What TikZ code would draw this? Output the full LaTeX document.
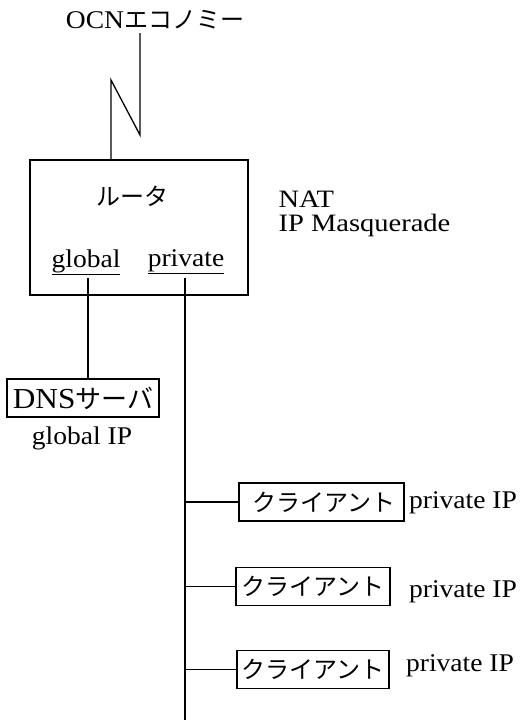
\documentclass[tikz,border=0pt]{standalone}
\usepackage{fontspec}
\setmainfont{Liberation Serif}[FakeStretch=1.08]
\newfontfamily\natfont{Liberation Serif}[FakeStretch=1.14]
\newfontfamily\jp{Noto Sans CJK JP}
\begin{document}
\begin{tikzpicture}[x=1pt,y=-1pt, line width=1.3pt,
  every node/.style={font=\fontsize{25.5}{30}\selectfont, inner sep=0pt},
  jpf/.style={font=\jp\fontsize{24}{30}\selectfont},
  box/.style={draw, minimum height=38pt, inner sep=4pt}]
\useasboundingbox (0,0) rectangle (528,725);
% top link
\node (ocn) at (155,20) {OCN{\jp\fontsize{24}{30}\selectfont エコノミー}};
\node[draw, minimum width=218pt, minimum height=135pt] (router) at (139,227.5) {};
\node[jpf] (rt) at (132,196) {ルータ};
\node (global) at (86,262) {\underline{global}};
\node (private) at (186,262) {\underline{private}};
\node[anchor=base west, font=\natfont\fontsize{25}{30}\selectfont] (nat) at (278,207) {NAT};
\node[anchor=base west, font=\natfont\fontsize{25}{30}\selectfont] (masq) at (278,231) {IP Masquerade};
\coordinate (z1) at (140,135);
\coordinate (z2) at (111,80);
\draw (ocn.south -| z1) ++(0,3) -- (z1) -- (z2) -- (z2 |- router.north);
% global side
\node[box, minimum width=152pt, font=\fontsize{29}{30}\selectfont] (dns) at (83,398) {DNS{\jp\fontsize{26}{30}\selectfont サーバ}};
\node (gip) at (82,438) {global IP};
\draw ([yshift=-3pt]global.south -| 88,0) -- (88,0 |- dns.north);
% private side
\coordinate (pend) at (185,720);
\draw ([yshift=-3pt]private.south -| pend) -- (pend);
\node[box, jpf, minimum width=165pt] (c1) at (321.5,502) {\ クライアント};
\node[box, jpf, minimum width=154pt] (c2) at (313,586.5) {クライアント};
\node[box, jpf, minimum width=152pt] (c3) at (313,669.5) {クライアント};
\node (p1) at (463,503) {private IP};
\node (p2) at (463,592) {private IP};
\node (p3) at (460,666) {private IP};
\draw (pend |- c1.west) -- (c1.west);
\draw (pend |- c2.west) -- (c2.west);
\draw (pend |- c3.west) -- (c3.west);
\end{tikzpicture}
\end{document}
